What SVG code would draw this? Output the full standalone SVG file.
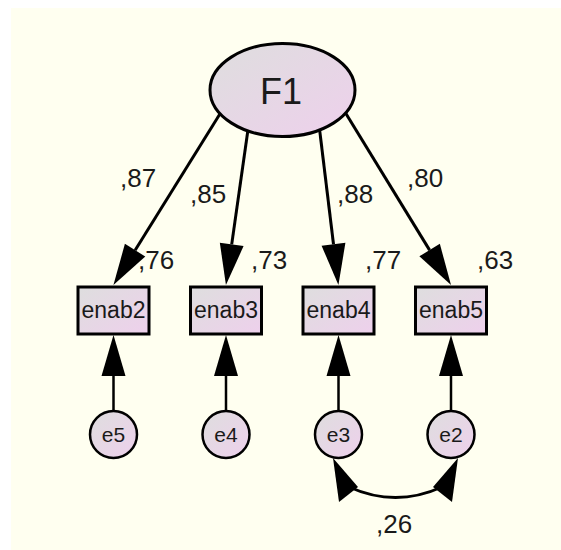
<svg xmlns="http://www.w3.org/2000/svg" width="561" height="550" viewBox="0 0 561 550">
  <defs>
    <linearGradient id="fillGrad" x1="0" y1="0" x2="1" y2="1">
      <stop offset="0" stop-color="#dedede"/>
      <stop offset="1" stop-color="#eed0ec"/>
    </linearGradient>
    <!-- arrowhead starts at the line end and points forward 41px -->
    <marker id="arrow" markerUnits="userSpaceOnUse" markerWidth="50" markerHeight="30"
            refX="0" refY="0" orient="auto" overflow="visible">
      <path d="M 41 0 L 0 -12 L 0 12 Z" fill="#000"/>
    </marker>
    <style>
      .conn { stroke: #000; stroke-width: 3; fill: none; }
      .err { stroke: #000; stroke-width: 2.5; fill: none; }
      .node { fill: url(#fillGrad); stroke: #000; stroke-width: 3; }
      .enode { fill: url(#fillGrad); stroke: #000; stroke-width: 2.5; }
      .lbl { font-family: "Liberation Sans", Arial, sans-serif; fill: #1a1a1a; text-anchor: middle; }
      .val { font-family: "Liberation Sans", Arial, sans-serif; fill: #1a1a1a; font-size: 26px; }
    </style>
  </defs>

  <rect x="11" y="8" width="550" height="542" fill="#fffff0"/>

  <!-- connectors -->
  <g id="connectors">
    <line class="conn" x1="228.6" y1="100" x2="135.1" y2="250.2" marker-end="url(#arrow)"/>
    <line class="conn" x1="252.2" y1="100" x2="231.7" y2="244.4" marker-end="url(#arrow)"/>
    <line class="conn" x1="316" y1="100" x2="333.5" y2="244.3" marker-end="url(#arrow)"/>
    <line class="conn" x1="337.6" y1="100" x2="429.6" y2="250.1" marker-end="url(#arrow)"/>

    <line class="err" x1="113.5" y1="412" x2="113.5" y2="376" marker-end="url(#arrow)"/>
    <line class="err" x1="226" y1="412" x2="226" y2="376" marker-end="url(#arrow)"/>
    <line class="err" x1="338.5" y1="412" x2="338.5" y2="376" marker-end="url(#arrow)"/>
    <line class="err" x1="451" y1="412" x2="451" y2="376" marker-end="url(#arrow)"/>

    <!-- covariance e3 <-> e2 -->
    <path class="conn" d="M 349 487 Q 395.5 508 442 487"/>
    <polygon points="333,458 339,502 358,487" fill="#000"/>
    <polygon points="458,458 452,502 433,487" fill="#000"/>
  </g>

  <g id="F1">
    <ellipse class="node" cx="282.5" cy="90" rx="72.5" ry="46.5"/>
    <text class="lbl" x="281" y="104" font-size="36">F1</text>
  </g>

  <g id="enab2">
    <rect class="node" x="78" y="287" width="71" height="47"/>
    <text class="lbl" x="113.5" y="318" font-size="23">enab2</text>
  </g>
  <g id="enab3">
    <rect class="node" x="190.5" y="287" width="71" height="47"/>
    <text class="lbl" x="226" y="318" font-size="23">enab3</text>
  </g>
  <g id="enab4">
    <rect class="node" x="303" y="287" width="71" height="47"/>
    <text class="lbl" x="338.5" y="318" font-size="23">enab4</text>
  </g>
  <g id="enab5">
    <rect class="node" x="415.5" y="287" width="71" height="47"/>
    <text class="lbl" x="451" y="318" font-size="23">enab5</text>
  </g>

  <g id="e5">
    <circle class="enode" cx="113.5" cy="434.5" r="23.5"/>
    <text class="lbl" x="113.5" y="442" font-size="21">e5</text>
  </g>
  <g id="e4">
    <circle class="enode" cx="226" cy="434.5" r="23.5"/>
    <text class="lbl" x="226" y="442" font-size="21">e4</text>
  </g>
  <g id="e3">
    <circle class="enode" cx="338.5" cy="434.5" r="23.5"/>
    <text class="lbl" x="338.5" y="442" font-size="21">e3</text>
  </g>
  <g id="e2">
    <circle class="enode" cx="451" cy="434.5" r="23.5"/>
    <text class="lbl" x="451" y="442" font-size="21">e2</text>
  </g>

  <!-- estimates -->
  <g id="estimates">
    <text class="val" x="120" y="187">,87</text>
    <text class="val" x="190" y="203">,85</text>
    <text class="val" x="337" y="203">,88</text>
    <text class="val" x="407" y="187">,80</text>
    <text class="val" x="138" y="269">,76</text>
    <text class="val" x="251" y="269">,73</text>
    <text class="val" x="365" y="269">,77</text>
    <text class="val" x="477" y="269">,63</text>
    <text class="val" x="376" y="533">,26</text>
  </g>
</svg>
